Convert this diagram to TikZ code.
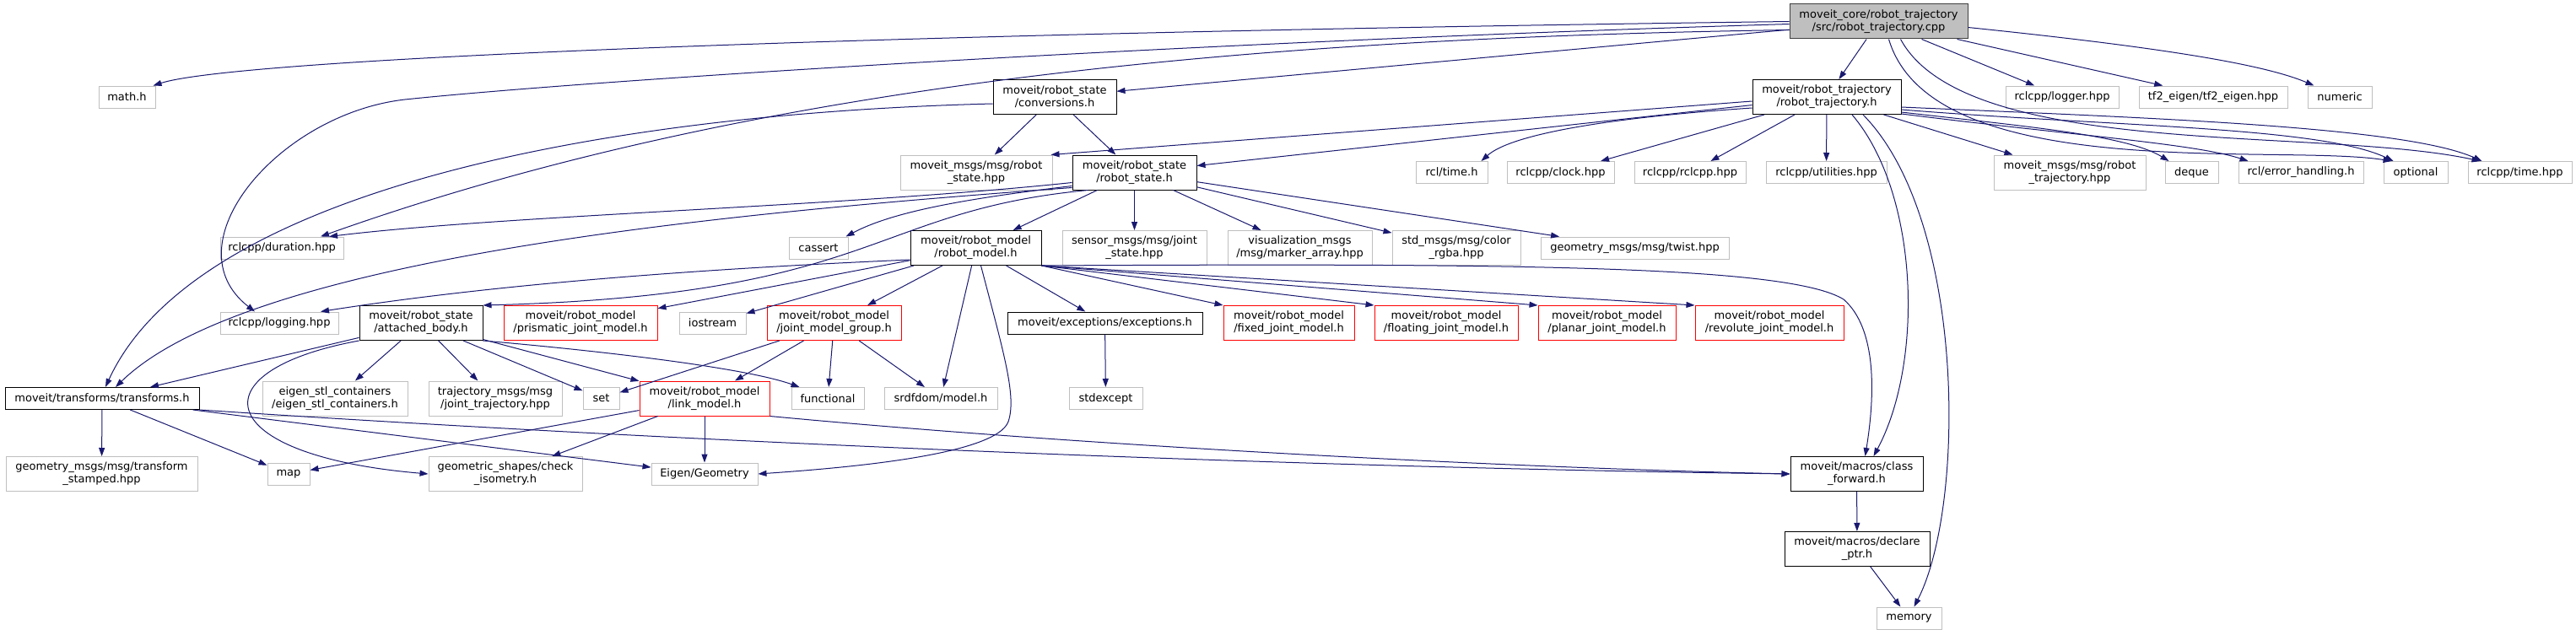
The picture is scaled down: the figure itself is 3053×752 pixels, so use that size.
\documentclass[tikz,border=0pt]{standalone}
\usepackage{fontspec}
\setmainfont{DejaVu Sans}
\usetikzlibrary{arrows.meta}

\definecolor{depblue}{HTML}{191970}
\definecolor{extgray}{HTML}{BFBFBF}
\definecolor{maingray}{HTML}{BFBFBF}
\definecolor{darkborder}{HTML}{404040}

\begin{document}
\begin{tikzpicture}[x=1pt, y=-1pt,
    box/.style={draw, fill=white, line width=1pt, inner sep=0pt, align=center, font=\fontsize{13}{15}\selectfont},
    one/.style={box, minimum height=26pt},
    two/.style={box, minimum height=41pt},
    ext/.style={draw=extgray},
    trunc/.style={draw=red},
    dep/.style={draw=depblue, line width=1pt, -{Triangle[length=10pt,width=7pt]}}]
        \path[fill=white, use as bounding box] (0,0) rectangle (3053,752);

        \node[two, fill=maingray, draw=darkborder, minimum width=211pt] (main) at (2226.5,25.5) {moveit\_core/robot\_trajectory\\/src/robot\_trajectory.cpp};

        \node[one, ext, minimum width=67pt] (mathh) at (150.5,115) {math.h};
        \node[two, minimum width=146pt] (conversions) at (1250,115) {moveit/robot\_state\\/conversions.h};
        \node[two, minimum width=176pt] (robottraj) at (2165,115) {moveit/robot\_trajectory\\/robot\_trajectory.h};
        \node[one, ext, minimum width=134pt] (logger) at (2444,115) {rclcpp/logger.hpp};
        \node[one, ext, minimum width=176pt] (tfeigen) at (2623,115) {tf2\_eigen/tf2\_eigen.hpp};
        \node[one, ext, minimum width=76pt] (numeric) at (2773,115) {numeric};

        \node[two, ext, minimum width=180pt] (msgstate) at (1157,204.5) {moveit\_msgs/msg/robot\\\_state.hpp};
        \node[two, minimum width=147pt] (robotstate) at (1344.5,204.5) {moveit/robot\_state\\/robot\_state.h};
        \node[one, ext, minimum width=85pt] (rcltime) at (1720.5,204.5) {rcl/time.h};
        \node[one, ext, minimum width=127pt] (clock) at (1849.5,204.5) {rclcpp/clock.hpp};
        \node[one, ext, minimum width=132pt] (rclcpp) at (2003,204.5) {rclcpp/rclcpp.hpp};
        \node[one, ext, minimum width=143pt] (utilities) at (2164.5,204.5) {rclcpp/utilities.hpp};
        \node[two, ext, minimum width=180pt] (msgtraj) at (2453,204.5) {moveit\_msgs/msg/robot\\\_trajectory.hpp};
        \node[one, ext, minimum width=63pt] (deque) at (2597.5,204.5) {deque};
        \node[one, ext, minimum width=148pt] (errhandling) at (2727,204.5) {rcl/error\_handling.h};
        \node[one, ext, minimum width=76pt] (optional) at (2863,204.5) {optional};
        \node[one, ext, minimum width=123pt] (rclcpptime) at (2986.5,204.5) {rclcpp/time.hpp};

        \node[one, ext, minimum width=146pt] (duration) at (334,294) {rclcpp/duration.hpp};
        \node[one, ext, minimum width=70pt] (cassert) at (970,294) {cassert};
        \node[two, minimum width=155pt] (robotmodel) at (1156.5,294) {moveit/robot\_model\\/robot\_model.h};
        \node[two, ext, minimum width=171pt] (jointstate) at (1344.5,294) {sensor\_msgs/msg/joint\\\_state.hpp};
        \node[two, ext, minimum width=171pt] (markerarray) at (1540.5,294) {visualization\_msgs\\/msg/marker\_array.hpp};
        \node[two, ext, minimum width=152pt] (colorrgba) at (1726,294) {std\_msgs/msg/color\\\_rgba.hpp};
        \node[one, ext, minimum width=223pt] (twist) at (1937.5,294) {geometry\_msgs/msg/twist.hpp};

        \node[one, ext, minimum width=140pt] (logging) at (331,383) {rclcpp/logging.hpp};
        \node[two, minimum width=146pt] (attached) at (499,383) {moveit/robot\_state\\/attached\_body.h};
        \node[two, trunc, minimum width=182pt] (prismatic) at (688,383) {moveit/robot\_model\\/prismatic\_joint\_model.h};
        \node[one, ext, minimum width=79pt] (iostream) at (844.5,383) {iostream};
        \node[two, trunc, minimum width=159pt] (jmg) at (988.5,383) {moveit/robot\_model\\/joint\_model\_group.h};
        \node[one, minimum width=231pt] (exceptions) at (1309.5,383) {moveit/exceptions/exceptions.h};
        \node[two, trunc, minimum width=155pt] (fixed) at (1527.5,383) {moveit/robot\_model\\/fixed\_joint\_model.h};
        \node[two, trunc, minimum width=170pt] (floating) at (1714,383) {moveit/robot\_model\\/floating\_joint\_model.h};
        \node[two, trunc, minimum width=163pt] (planar) at (1904.5,383) {moveit/robot\_model\\/planar\_joint\_model.h};
        \node[two, trunc, minimum width=176pt] (revolute) at (2097,383) {moveit/robot\_model\\/revolute\_joint\_model.h};

        \node[one, minimum width=230pt] (transforms) at (121,472.5) {moveit/transforms/transforms.h};
        \node[two, ext, minimum width=172pt] (eigenstl) at (397,472.5) {eigen\_stl\_containers\\/eigen\_stl\_containers.h};
        \node[two, ext, minimum width=158pt] (jointtraj) at (587,472.5) {trajectory\_msgs/msg\\/joint\_trajectory.hpp};
        \node[one, ext, minimum width=43pt] (set) at (712.5,472.5) {set};
        \node[two, trunc, minimum width=154pt] (linkmodel) at (835,472.5) {moveit/robot\_model\\/link\_model.h};
        \node[one, ext, minimum width=86pt] (functional) at (981,472.5) {functional};
        \node[one, ext, minimum width=134pt] (srdfdom) at (1115,472.5) {srdfdom/model.h};
        \node[one, ext, minimum width=87pt] (stdexcept) at (1310.5,472.5) {stdexcept};

        \node[two, ext, minimum width=227pt] (tfstamped) at (120.5,562) {geometry\_msgs/msg/transform\\\_stamped.hpp};
        \node[one, ext, minimum width=50pt] (map) at (342,562) {map};
        \node[two, ext, minimum width=182pt] (checkiso) at (599,562) {geometric\_shapes/check\\\_isometry.h};
        \node[one, ext, minimum width=126pt] (eigengeom) at (835,562) {Eigen/Geometry};
        \node[two, minimum width=157pt] (classfwd) at (2200.5,562) {moveit/macros/class\\\_forward.h};

        \node[two, minimum width=172pt] (declareptr) at (2201,651) {moveit/macros/declare\\\_ptr.h};
        \node[one, ext, minimum width=77pt] (memory) at (2262.5,733) {memory};

        \draw[dep] (main.west) .. controls (1000,40) and (280,70) .. ([xshift=-3pt]mathh.north east);
        \draw[dep] ([yshift=-3pt]main.west) .. controls (1400,50) and (700,95) .. (480,118) .. controls (330,135) and (200,290) .. ([xshift=-29pt]logging.north);
        \draw[dep] ([yshift=-10pt]main.west) .. controls (1500,45) and (900,95) .. ([xshift=46pt]duration.north);
        \draw[dep] (main) -- (conversions);
        \draw[dep] (main) -- (robottraj);
        \draw[dep] (main) -- (logger);
        \draw[dep] (main) -- (tfeigen);
        \draw[dep] ([yshift=-7pt]main.east) .. controls (2550,55) and (2680,75) .. ([xshift=8pt]numeric.north west);
        \draw[dep] ([xshift=12pt]main.south) .. controls (2290,220) and (2700,170) .. ([xshift=10pt]optional.north west);
        \draw[dep] ([xshift=26pt]main.south) .. controls (2330,190) and (2750,150) .. ([xshift=15pt]rclcpptime.north west);

        \draw[dep] ([yshift=-5pt]robottraj.west) -- ([xshift=-2pt]msgstate.north east);
        \draw[dep] (robottraj) -- (robotstate);
        \draw[dep] ([yshift=-13pt]robottraj.west) .. controls (1900,140) and (1790,160) .. ([xshift=-8pt]rcltime.north east);
        \draw[dep] (robottraj) -- (clock);
        \draw[dep] (robottraj) -- (rclcpp);
        \draw[dep] (robottraj) -- (utilities);
        \draw[dep] (robottraj) -- (msgtraj);
        \draw[dep] ([yshift=-18pt]robottraj.east) .. controls (2400,150) and (2520,160) .. ([xshift=5pt]deque.north west);
        \draw[dep] ([yshift=-20pt]robottraj.east) .. controls (2450,160) and (2600,170) .. ([xshift=12pt]errhandling.north west);
        \draw[dep] ([yshift=-15pt]robottraj.east) .. controls (2500,150) and (2750,150) .. ([xshift=12pt]optional.north west);
        \draw[dep] ([yshift=-12pt]robottraj.east) .. controls (2550,140) and (2850,150) .. ([xshift=17pt]rclcpptime.north west);
        \draw[dep] ([xshift=30pt]robottraj.south) .. controls (2275,230) and (2280,430) .. ([xshift=20pt]classfwd.north);
        \draw[dep] ([xshift=43pt]robottraj.south) .. controls (2330,260) and (2330,600) .. ([xshift=6pt]memory.north);

        \draw[dep] (conversions) -- (msgstate);
        \draw[dep] (conversions) -- (robotstate);
        \draw[dep] ([yshift=-8pt]conversions.west) .. controls (700,135) and (230,230) .. ([xshift=4pt]transforms.north);

        \draw[dep] (robotstate) -- (robotmodel);
        \draw[dep] (robotstate) -- (jointstate);
        \draw[dep] (robotstate) -- (markerarray);
        \draw[dep] (robotstate) -- (colorrgba);
        \draw[dep] (robotstate) -- (twist);
        \draw[dep] ([yshift=-12pt]robotstate.west) .. controls (1000,245) and (600,255) .. ([xshift=56pt]duration.north);
        \draw[dep] ([yshift=-16pt]robotstate.west) .. controls (1150,235) and (1060,250) .. ([xshift=-3pt]cassert.north east);
        \draw[dep] ([yshift=-18pt]robotstate.west) .. controls (900,250) and (300,300) .. ([xshift=16pt]transforms.north);
        \draw[dep] ([xshift=-55pt]robotstate.south) .. controls (1030,250) and (1040,350) .. (attached.north east);

        \draw[dep] ([yshift=-14pt]robotmodel.west) .. controls (850,318) and (600,335) .. ([xshift=49pt]logging.north);
        \draw[dep] (robotmodel) -- (prismatic);
        \draw[dep] (robotmodel) -- (iostream);
        \draw[dep] (robotmodel) -- (jmg);
        \draw[dep] (robotmodel) -- (srdfdom);
        \draw[dep] (robotmodel) -- (exceptions);
        \draw[dep] ([xshift=6pt]robotmodel.south) .. controls (1190,420) and (1205,470) .. (1195,500) .. controls (1180,540) and (1000,555) .. (eigengeom.east);
        \draw[dep] (robotmodel.south east) -- (fixed.north west);
        \draw[dep] (robotmodel.south east) -- (floating.north west);
        \draw[dep] (robotmodel.south east) -- (planar.north west);
        \draw[dep] (robotmodel.south east) -- (revolute.north west);
        \draw[dep] (robotmodel.south east) .. controls (1800,312) and (2120,315) .. (2185,355) .. controls (2225,390) and (2222,470) .. ([xshift=10pt]classfwd.north);

        \draw[dep] (attached) -- (transforms);
        \draw[dep] (attached.south west) .. controls (230,440) and (250,540) .. (checkiso.west);
        \draw[dep] (attached) -- (eigenstl);
        \draw[dep] (attached) -- (jointtraj);
        \draw[dep] (attached) -- (set);
        \draw[dep] (attached) -- (linkmodel);
        \draw[dep] (attached.south east) .. controls (700,415) and (880,435) .. ([xshift=10pt]functional.north west);

        \draw[dep] (jmg) -- (set);
        \draw[dep] (jmg) -- (linkmodel);
        \draw[dep] (jmg) -- (functional);
        \draw[dep] (jmg) -- (srdfdom);

        \draw[dep] (linkmodel) -- (map);
        \draw[dep] (linkmodel) -- (checkiso);
        \draw[dep] (linkmodel) -- (eigengeom);
        \draw[dep] (linkmodel.south east) .. controls (1300,530) and (1800,555) .. (classfwd.west);

        \draw[dep] (transforms) -- (tfstamped);
        \draw[dep] (transforms) -- (map);
        \draw[dep] (transforms) -- (eigengeom);
        \draw[dep] (transforms.south east) .. controls (900,530) and (1600,555) .. (classfwd.west);

        \draw[dep] (exceptions) -- (stdexcept);
        \draw[dep] (classfwd) -- (declareptr);
        \draw[dep] (declareptr) -- (memory);
      \end{tikzpicture}
\end{document}
